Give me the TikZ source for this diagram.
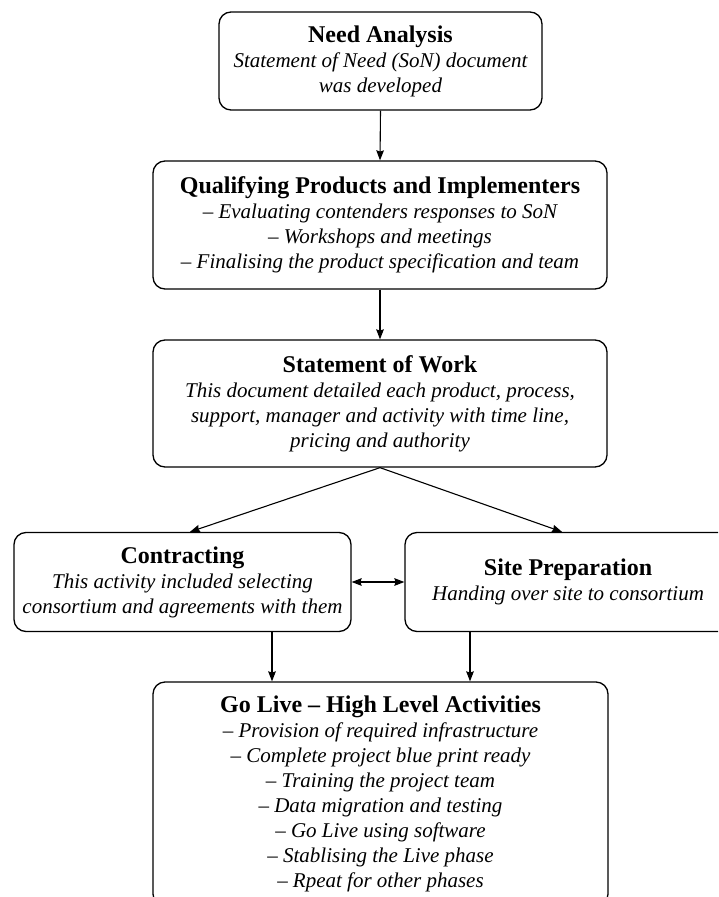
\documentclass[tikz,border=0pt]{standalone}
\usepackage{fontspec}
\setmainfont{Liberation Serif}
\usetikzlibrary{arrows.meta}

% bold heading line inside a process box
\newcommand\boxtitle[1]{{\fontsize{12}{12.5}\selectfont\bfseries\upshape #1}}
% invisible padding used to push a line off-centre
\newcommand\padright{\makebox[27pt]{}}

\begin{document}
\begin{tikzpicture}[x=0.5pt,y=-0.5pt,
  box/.style={draw, line width=0.65pt, rounded corners=6pt, align=center,
    inner sep=0pt, font=\fontsize{10.5}{12.5}\selectfont\itshape},
  arr/.style={line width=0.55pt, -{Stealth[length=5pt,width=3.8pt,inset=0.6pt]}},
  dbl/.style={line width=0.55pt, {Stealth[length=5pt,width=3.8pt,inset=0.6pt]}-{Stealth[length=5pt,width=3.8pt,inset=0.6pt]}}]
\useasboundingbox (0,0) rectangle (718,897);
\clip (0,0) rectangle (718,897);

\node[box, minimum width=161.5pt, minimum height=49pt] (need) at (380.5,61)
  {\boxtitle{Need Analysis}\\Statement of Need (SoN) document\\was developed};

\node[box, minimum width=227pt, minimum height=64pt] (qual) at (380,225)
  {\boxtitle{Qualifying Products and Implementers}\\
   -- Evaluating contenders responses to SoN\\
   -- Workshops and meetings\\
   -- Finalising the product specification and team};

\node[box, minimum width=227pt, minimum height=63.5pt] (sow) at (380,403.5)
  {\boxtitle{Statement of Work}\\
   This document detailed each product, process,\\
   support, manager and activity with time line,\\
   pricing and authority};

\node[box, minimum width=168.5pt, minimum height=49.5pt] (contract) at (182.5,582)
  {\boxtitle{Contracting}\\
   This activity included selecting\\
   consortium and agreements with them};

% this box runs past the right margin; its text stays centred at x=568
\node[box, minimum width=190pt, minimum height=49.5pt] (site) at (595,582)
  {\boxtitle{Site Preparation}\padright\\
   Handing over site to consortium\padright};

\node[box, minimum width=227.5pt, minimum height=112pt] (golive) at (380.5,794)
  {\boxtitle{Go Live -- High Level Activities}\\
   -- Provision of required infrastructure\\
   -- Complete project blue print ready\\
   -- Training the project team\\
   -- Data migration and testing\\
   -- Go Live using software\\
   -- Stablising the Live phase\\
   -- Rpeat for other phases};

% connectors
\draw[arr] (need.south) -- (qual.north);
\draw[arr] (qual.south) -- (sow.north);
\draw[arr] (sow.south) -- ([xshift=3.75pt]contract.north);
\draw[arr] (sow.south) -- ([xshift=-16.5pt]site.north);
\draw[dbl] (contract.east) -- (site.west);
\draw[arr] ([xshift=44.75pt]contract.south) -- ([xshift=44.75pt]contract.south |- golive.north);
\draw[arr] ([xshift=-62.5pt]site.south) -- ([xshift=-62.5pt]site.south |- golive.north);
\end{tikzpicture}
\end{document}
